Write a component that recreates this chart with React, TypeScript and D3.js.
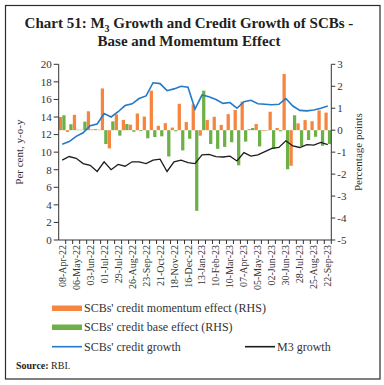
import React from "react";
import * as d3 from "d3";

const dates = [
  "08-Apr-22", "22-Apr-22", "06-May-22", "20-May-22", "03-Jun-22", "17-Jun-22",
  "01-Jul-22", "15-Jul-22", "29-Jul-22", "12-Aug-22", "26-Aug-22", "09-Sep-22",
  "23-Sep-22", "07-Oct-22", "21-Oct-22", "04-Nov-22", "18-Nov-22", "02-Dec-22",
  "16-Dec-22", "30-Dec-22", "13-Jan-23", "27-Jan-23", "10-Feb-23", "24-Feb-23",
  "10-Mar-23", "24-Mar-23", "07-Apr-23", "21-Apr-23", "05-May-23", "19-May-23",
  "02-Jun-23", "16-Jun-23", "30-Jun-23", "14-Jul-23", "28-Jul-23", "11-Aug-23",
  "25-Aug-23", "08-Sep-23", "22-Sep-23",
];

// SCBs' credit momentum effect (RHS, percentage points)
const momentum = [
  0.6, -0.08, 0.7, 0.02, 0.86, 0.05, 1.9, -0.83, 0.72, 0.47, 0.25, 0.76, 0.62,
  1.8, 0.2, 0.32, 0.12, 1.2, 0.37, 1.17, -0.25, 0.46, 0.61, 0.24, 0.73, 0.92,
  1.3, 0.05, 0.28, -0.03, 0.84, 0.1, 2.56, -1.62, 0.31, 0.46, 0.41, 0.9, 0.8,
];

// SCBs' credit base effect (RHS, percentage points)
const baseEffect = [
  0.68, 0.27, 0.02, 0.39, 0.03, 0.02, -0.63, 0.4, -0.25, 0.28, -0.07, -0.04, -0.37,
  -0.31, -0.28, -1.2, -0.05, -0.92, -0.39, -3.67, 1.8, -0.63, -0.85, -0.76, -0.55, -1.6,
  -0.52, 0.1, -0.74, -0.02, -0.86, -0.05, -1.78, 0.68, -0.72, -0.45, -0.3, -0.71, -0.63,
];

// SCBs' credit growth (LHS, per cent y-o-y)
const creditGrowth = [
  10.9, 11.2, 11.8, 12.2, 13.0, 13.2, 14.4, 14.0, 14.6, 15.3, 15.5, 16.1, 16.4,
  17.9, 17.8, 17.0, 17.2, 17.5, 17.4, 14.9, 16.5, 16.3, 16.0, 15.55, 15.65, 15.0,
  15.75, 15.9, 15.5, 15.45, 15.4, 15.45, 16.1, 15.25, 14.75, 14.7, 14.8, 15.0, 15.25,
];

// M3 growth (LHS, per cent y-o-y)
const m3Growth = [
  9.1, 9.5, 9.3, 8.7, 8.5, 7.8, 8.9, 8.0, 8.6, 8.4, 8.9, 8.9, 8.7,
  9.1, 9.2, 7.8, 8.9, 9.1, 8.8, 8.7, 9.68, 9.75, 9.5, 9.45, 9.55, 9.0,
  9.95, 9.55, 9.68, 10.05, 10.43, 10.53, 11.3, 10.7, 10.53, 10.85, 10.8, 11.1, 10.87,
];

const leftTicks = [0, 2, 4, 6, 8, 10, 12, 14, 16, 18, 20];
const rightTicks = [-5, -4, -3, -2, -1, 0, 1, 2, 3];

const FONT = "'Liberation Serif', 'Times New Roman', serif";
const ORANGE = "#f5853f";
const GREEN = "#6cb047";
const BLUE = "#2479c8";
const BLACK = "#1c1c1c";
const AXIS = "#333";

const plot = { left: 58.7, right: 331.3, top: 64.3, bottom: 240 };

const App: React.FC = () => {
  const x = d3.scaleBand<string>().domain(dates).range([plot.left, plot.right]);
  const sub = d3
    .scaleBand<string>()
    .domain(["m", "b"])
    .range([0, x.bandwidth()])
    .paddingInner(0.06)
    .paddingOuter(0.04);
  const yL = d3.scaleLinear().domain([0, 20]).range([plot.bottom, plot.top]);
  const yR = d3.scaleLinear().domain([-5, 3]).range([plot.bottom, plot.top]);

  const cx = (i: number) => (x(dates[i]) as number) + x.bandwidth() / 2;
  const line = d3
    .line<number>()
    .x((_, i) => cx(i))
    .y((d) => yL(d));

  const bar = (v: number, i: number, key: string, color: string) => {
    const y0 = yR(0);
    const y1 = yR(v);
    return (
      <rect
        key={key + i}
        x={(x(dates[i]) as number) + (sub(key) as number)}
        y={Math.min(y0, y1)}
        width={sub.bandwidth()}
        height={Math.abs(y1 - y0)}
        fill={color}
      />
    );
  };

  return (
    <svg
      width={384}
      height={385}
      style={{ position: "absolute", left: 0, top: 0, display: "block", background: "#fff" }}
      fontFamily={FONT}
    >
      <rect x={5.5} y={5.5} width={374.5} height={373.5} fill="none" stroke="#2b2b2b" strokeWidth={1.2} />

      <text x={189} y={28} textAnchor="middle" fontSize={15} fontWeight="bold" fill="#231f20">
        Chart 51: M<tspan fontSize={10} dy={4}>3</tspan>
        <tspan dy={-4}> Growth and Credit Growth of SCBs -</tspan>
      </text>
      <text x={189} y={46} textAnchor="middle" fontSize={15} fontWeight="bold" fill="#231f20">
        Base and Momemtum Effect
      </text>

      {momentum.map((v, i) => bar(v, i, "m", ORANGE))}
      {baseEffect.map((v, i) => bar(v, i, "b", GREEN))}

      <path d={line(creditGrowth) || ""} fill="none" stroke={BLUE} strokeWidth={1.6} />
      <path d={line(m3Growth) || ""} fill="none" stroke={BLACK} strokeWidth={1.3} />

      {/* left axis */}
      <line x1={plot.left} x2={plot.left} y1={plot.top} y2={plot.bottom} stroke={AXIS} />
      {leftTicks.map((t) => (
        <g key={"l" + t}>
          <line x1={plot.left - 5} x2={plot.left} y1={yL(t)} y2={yL(t)} stroke={AXIS} />
          <text x={plot.left - 7} y={yL(t)} dy="0.35em" textAnchor="end" fontSize={11} fill="#333">
            {t}
          </text>
        </g>
      ))}
      <text
        transform={`translate(23, ${(plot.top + plot.bottom) / 2}) rotate(-90)`}
        textAnchor="middle"
        fontSize={11}
        fill="#333"
      >
        Per cent, y-o-y
      </text>

      {/* right axis */}
      <line x1={plot.right} x2={plot.right} y1={plot.top} y2={plot.bottom} stroke={AXIS} />
      {rightTicks.map((t) => (
        <g key={"r" + t}>
          <line x1={plot.right} x2={plot.right + 4} y1={yR(t)} y2={yR(t)} stroke={AXIS} />
          <text x={plot.right + 6} y={yR(t)} dy="0.35em" textAnchor="start" fontSize={11} fill="#333">
            {t < 0 ? "-" + Math.abs(t) : t}
          </text>
        </g>
      ))}
      <text
        transform={`translate(362, ${(plot.top + plot.bottom) / 2}) rotate(-90)`}
        textAnchor="middle"
        fontSize={11}
        fill="#333"
      >
        Percentage points
      </text>

      {/* x axis */}
      <line x1={plot.left} x2={plot.right} y1={plot.bottom} y2={plot.bottom} stroke={AXIS} />
      {dates.map((d, i) => (
        <line
          key={"xt" + i}
          x1={(x(d) as number) + x.bandwidth()}
          x2={(x(d) as number) + x.bandwidth()}
          y1={plot.bottom}
          y2={plot.bottom + 4}
          stroke={AXIS}
        />
      ))}
      {dates.map((d, i) =>
        i % 2 === 0 ? (
          <text
            key={"xl" + i}
            transform={`translate(${cx(i)}, ${plot.bottom + 5}) rotate(-90)`}
            dy="0.35em"
            textAnchor="end"
            fontSize={10}
            fill="#333"
          >
            {d}
          </text>
        ) : null
      )}

      {/* legend */}
      <rect x={52} y={305.5} width={30} height={5.5} fill={ORANGE} />
      <text x={84} y={312} fontSize={12} fill="#333">SCBs' credit momentum effect (RHS)</text>
      <rect x={52} y={324.5} width={30} height={5.5} fill={GREEN} />
      <text x={84} y={331} fontSize={12} fill="#333">SCBs' credit base effect (RHS)</text>
      <line x1={52} x2={82} y1={346.7} y2={346.7} stroke={BLUE} strokeWidth={1.6} />
      <text x={84} y={351} fontSize={12} fill="#333">SCBs' credit growth</text>
      <line x1={245} x2={275} y1={346.7} y2={346.7} stroke={BLACK} strokeWidth={1.6} />
      <text x={277} y={351} fontSize={12} fill="#333">M3 growth</text>

      <text x={16} y={369} fontSize={10} fill="#231f20">
        <tspan fontWeight="bold">Source:</tspan> RBI.
      </text>
    </svg>
  );
};

export default App;
